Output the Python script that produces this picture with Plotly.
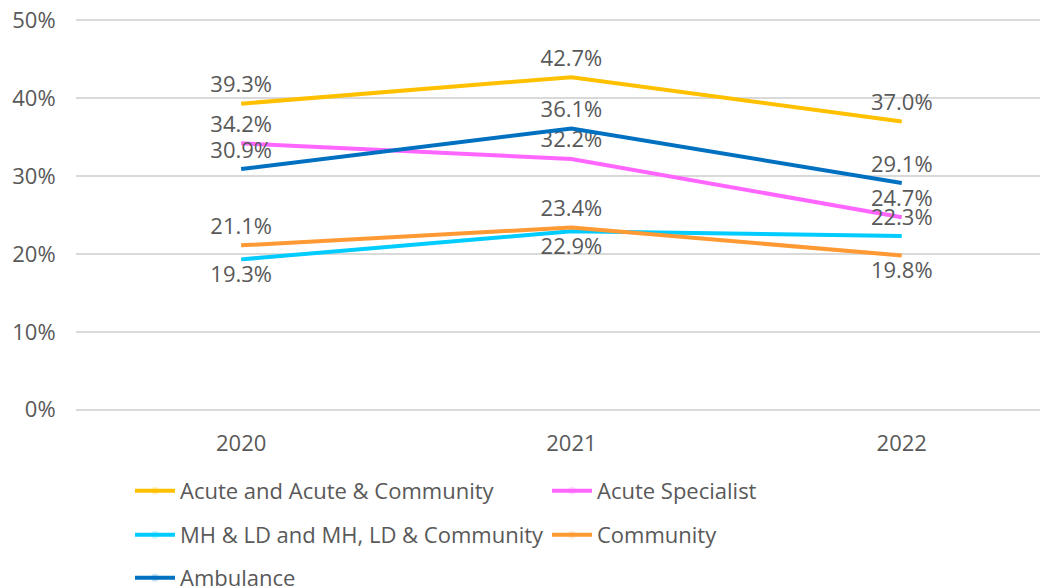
import plotly.graph_objects as go

years = ["2020", "2021", "2022"]
series_names = [
    "Acute and Acute & Community",
    "Acute Specialist",
    "MH & LD and MH, LD & Community",
    "Community",
    "Ambulance",
]
acute = [0.393, 0.427, 0.370]
acute_specialist = [0.342, 0.322, 0.247]
mh_ld = [0.193, 0.229, 0.223]
community = [0.211, 0.234, 0.198]
ambulance = [0.309, 0.361, 0.291]

values = [acute, acute_specialist, mh_ld, community, ambulance]
colors = ["#FFC000", "#FF66FF", "#00CCFF", "#FF9933", "#0070C0"]
label_pos = [
    ["top center", "top center", "top center"],
    ["top center", "top center", "top center"],
    ["bottom center", "bottom center", "top center"],
    ["top center", "top center", "bottom center"],
    ["top center", "top center", "top center"],
]
legends = ["legend", "legend", "legend2", "legend2", "legend3"]

FONT = "Open Sans"
TXT = "#595959"
FS = 22

fig = go.Figure()
for name, vals, col, pos, lg in zip(series_names, values, colors, label_pos, legends):
    fig.add_trace(go.Scatter(
        x=years, y=vals, name=name, mode="lines+markers+text",
        line=dict(color=col, width=4),
        marker=dict(size=8, opacity=0, color=col),
        text=[f"{v*100:.1f}%" for v in vals],
        textposition=pos,
        textfont=dict(family=FONT, size=FS, color=TXT),
        legend=lg,
        cliponaxis=False,
        hoverinfo="x+y+name",
    ))

leg_common = dict(orientation="h", xanchor="left", yanchor="middle",
                  xref="container", yref="container",
                  font=dict(family=FONT, size=FS, color=TXT),
                  entrywidth=362, entrywidthmode="pixels",
                  bgcolor="rgba(0,0,0,0)", itemwidth=40)

fig.update_layout(
    width=1048, height=587,
    margin=dict(l=68, r=0, t=10, b=183, autoexpand=False),
    paper_bgcolor="white", plot_bgcolor="white",
    font=dict(family=FONT, size=FS, color=TXT),
    xaxis=dict(type="category", range=[-0.5, 2.467], showgrid=False,
               showline=False, ticks="outside", ticklen=12,
               tickcolor="rgba(0,0,0,0)", tickfont=dict(size=FS, color=TXT),
               zeroline=False, automargin=False),
    yaxis=dict(range=[-0.003, 0.503], dtick=0.1, tickformat=".0%",
               showgrid=True, gridcolor="#D9D9D9", gridwidth=1.5,
               zeroline=False, showline=False, ticks="outside",
               ticklen=15, tickcolor="rgba(0,0,0,0)",
               ticklabeloverflow="allow",
               tickfont=dict(size=FS, color=TXT), automargin=False),
    legend=dict(x=0.1164, y=0.1771, **leg_common),
    legend2=dict(x=0.1164, y=0.1022, **leg_common),
    legend3=dict(x=0.1164, y=0.029, **leg_common),
    showlegend=True,
)

fig.write_html("out.html")
